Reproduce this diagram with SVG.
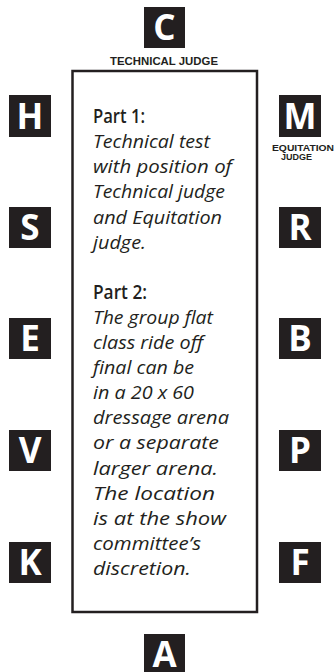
<svg xmlns="http://www.w3.org/2000/svg" width="335" height="672" viewBox="0 0 335 672">
<style>
.box{fill:#231f20}
.lt{font-family:"Open Sans","Liberation Sans",sans-serif;font-weight:bold;font-size:35px;fill:#fff;text-anchor:middle}
.lbl{font-family:"Liberation Sans",Arial,sans-serif;font-weight:bold;fill:#231f20}
.hd{font-family:"Open Sans","Liberation Sans",sans-serif;font-weight:600;font-size:19px;fill:#231f20}
.it{font-family:"Open Sans","Liberation Sans",sans-serif;font-style:italic;font-size:18.5px;fill:#231f20}
</style>
<rect width="335" height="672" fill="#fff"/>
<g id="arena">
<rect x="72.5" y="71" width="184.5" height="541" fill="none" stroke="#231f20" stroke-width="2.5"/>
<text class="hd" x="93" y="123" textLength="52" lengthAdjust="spacingAndGlyphs">Part 1:</text>
<text class="it" x="93" y="148" textLength="117" lengthAdjust="spacingAndGlyphs">Technical test</text>
<text class="it" x="93" y="173" textLength="139" lengthAdjust="spacingAndGlyphs">with position of</text>
<text class="it" x="93" y="198" textLength="132" lengthAdjust="spacingAndGlyphs">Technical judge</text>
<text class="it" x="93" y="223.5" textLength="129" lengthAdjust="spacingAndGlyphs">and Equitation</text>
<text class="it" x="93" y="248.5" textLength="53" lengthAdjust="spacingAndGlyphs">judge.</text>
<text class="hd" x="93" y="298.5" textLength="54" lengthAdjust="spacingAndGlyphs">Part 2:</text>
<text class="it" x="93" y="323.5" textLength="120" lengthAdjust="spacingAndGlyphs">The group flat</text>
<text class="it" x="93" y="348.5" textLength="110" lengthAdjust="spacingAndGlyphs">class ride off</text>
<text class="it" x="93" y="374" textLength="101" lengthAdjust="spacingAndGlyphs">final can be</text>
<text class="it" x="93" y="399" textLength="101" lengthAdjust="spacingAndGlyphs">in a 20 x 60</text>
<text class="it" x="93" y="424" textLength="136" lengthAdjust="spacingAndGlyphs">dressage arena</text>
<text class="it" x="93" y="449" textLength="126" lengthAdjust="spacingAndGlyphs">or a separate</text>
<text class="it" x="93" y="474.5" textLength="125" lengthAdjust="spacingAndGlyphs">larger arena.</text>
<text class="it" x="93" y="499.5" textLength="122" lengthAdjust="spacingAndGlyphs">The location</text>
<text class="it" x="93" y="524.5" textLength="133" lengthAdjust="spacingAndGlyphs">is at the show</text>
<text class="it" x="93" y="550" textLength="108" lengthAdjust="spacingAndGlyphs">committee’s</text>
<text class="it" x="93" y="575" textLength="98" lengthAdjust="spacingAndGlyphs">discretion.</text>
</g>
<g id="C"><rect class="box" x="144" y="7" width="41" height="41"/><text class="lt" x="164.5" y="40">C</text>
<text class="lbl" x="164" y="65" font-size="11" text-anchor="middle" textLength="108" lengthAdjust="spacingAndGlyphs">TECHNICAL JUDGE</text></g>
<g id="H"><rect class="box" x="9" y="95" width="42" height="42"/><text class="lt" x="30" y="128.5">H</text></g>
<g id="S"><rect class="box" x="9" y="207" width="42" height="41"/><text class="lt" x="30" y="240">S</text></g>
<g id="E"><rect class="box" x="9" y="318" width="42" height="41"/><text class="lt" x="30" y="351">E</text></g>
<g id="V"><rect class="box" x="9" y="430" width="42" height="41"/><text class="lt" x="30" y="463">V</text></g>
<g id="K"><rect class="box" x="9" y="542" width="42" height="41"/><text class="lt" x="30" y="575">K</text></g>
<g id="M"><rect class="box" x="279" y="95" width="42" height="42"/><text class="lt" x="300" y="128.5">M</text>
<text class="lbl" x="272" y="151" font-size="8.5" textLength="62" lengthAdjust="spacingAndGlyphs">EQUITATION</text>
<text class="lbl" x="296.5" y="160" font-size="8.5" text-anchor="middle" textLength="31" lengthAdjust="spacingAndGlyphs">JUDGE</text></g>
<g id="R"><rect class="box" x="279" y="207" width="42" height="41"/><text class="lt" x="300" y="240">R</text></g>
<g id="B"><rect class="box" x="279" y="318" width="42" height="41"/><text class="lt" x="300" y="351">B</text></g>
<g id="P"><rect class="box" x="279" y="430" width="42" height="41"/><text class="lt" x="300" y="463">P</text></g>
<g id="F"><rect class="box" x="279" y="542" width="42" height="41"/><text class="lt" x="300" y="575">F</text></g>
<g id="A"><rect class="box" x="144" y="634" width="41" height="41"/><text class="lt" x="164.5" y="667">A</text></g>
<g id="connectors"/>
</svg>
